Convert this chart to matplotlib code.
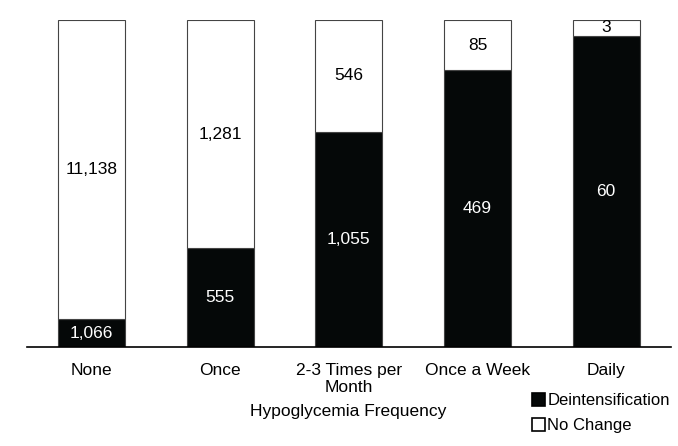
import numpy as np
import matplotlib.pyplot as plt

plt.rcParams['font.family'] = ['Liberation Sans', 'DejaVu Sans']

categories = ["None", "Once", "2-3 Times per\nMonth", "Once a Week", "Daily"]
deintens = [1066, 555, 1055, 469, 60]
no_change = [11138, 1281, 546, 85, 3]

d = np.array(deintens, dtype=float)
n = np.array(no_change, dtype=float)
tot = d + n
d_share = d / tot
n_share = n / tot
x = np.arange(len(categories))

fig = plt.figure(figsize=(6.78, 4.46), dpi=100)
ax = fig.add_axes([0.0398, 0.221, 0.9492, 0.734])

w = 0.52
ax.bar(x, d_share, w, color="#050808", edgecolor="#444444", linewidth=0.8, label="Deintensification")
ax.bar(x, n_share, w, bottom=d_share, color="white", edgecolor="#444444", linewidth=0.8, label="No Change")

fs = 12.5
for i in range(len(x)):
    ax.text(x[i], d_share[i] / 2, f"{deintens[i]:,}", ha="center", va="center", color="white", fontsize=fs)
    ax.text(x[i], d_share[i] + n_share[i] / 2, f"{no_change[i]:,}", ha="center", va="center", color="black", fontsize=fs)

ax.set_xlim(-0.5, 4.5)
ax.set_ylim(0, 1.0)
ax.set_xticks(x)
ax.set_xticklabels(categories, fontsize=fs, linespacing=1.15)
ax.tick_params(axis="x", length=0, pad=11)
ax.set_yticks([])
for s in ["top", "right", "left"]:
    ax.spines[s].set_visible(False)
ax.spines["bottom"].set_linewidth(1.2)

fig.text(0.513, 0.078, "Hypoglycemia Frequency", ha="center", va="center", fontsize=fs)

leg = ax.legend(loc="upper left", bbox_to_anchor=(0.775, -0.12), frameon=False, fontsize=12,
                handlelength=0.75, handleheight=0.75, handletextpad=0.15, labelspacing=0.6,
                borderaxespad=0)
for h in leg.legend_handles:
    h.set_edgecolor("black")
    h.set_linewidth(1.2)

fig.savefig("out.png", dpi=100)
